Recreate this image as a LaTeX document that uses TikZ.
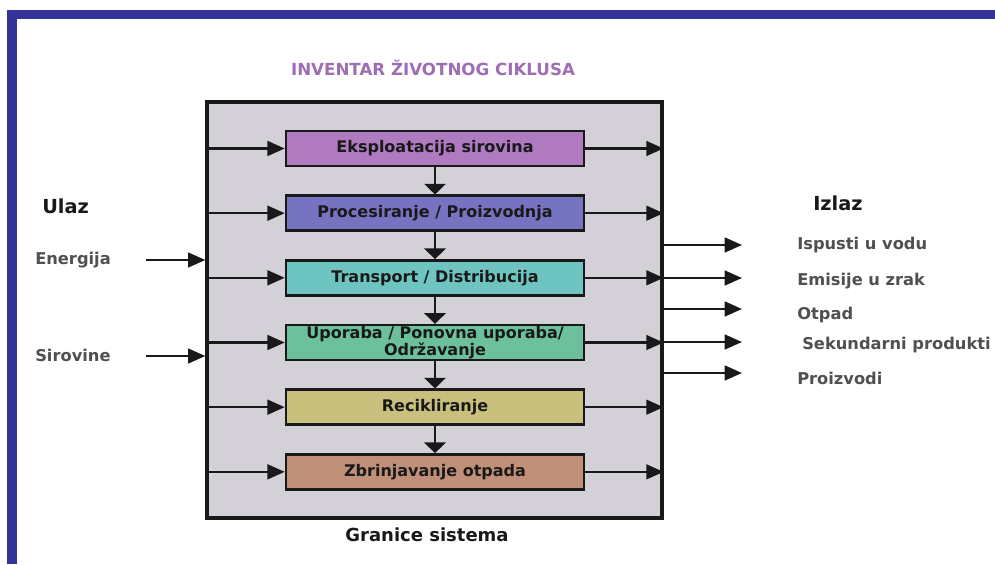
\documentclass[tikz,border=0pt]{standalone}
\usepackage{fontspec}
\setmainfont{DejaVu Sans}
\usetikzlibrary{arrows.meta}

\definecolor{frameblue}{RGB}{51,51,153}
\definecolor{sysgray}{RGB}{212,208,216}
\definecolor{titlepurple}{RGB}{160,108,180}
\definecolor{labelgray}{RGB}{80,80,80}
\definecolor{eksp}{RGB}{176,122,192}
\definecolor{proc}{RGB}{118,116,192}
\definecolor{trans}{RGB}{110,196,192}
\definecolor{upor}{RGB}{108,192,156}
\definecolor{recik}{RGB}{200,192,124}
\definecolor{zbrin}{RGB}{192,144,120}

\tikzstyle{process} = [rectangle, minimum width=223.5pt, minimum height=26.25pt, inner sep=0pt, text centered, align=center, draw=black!90, line width=1.8pt, font=\fontsize{12}{12}\selectfont\bfseries, text=black!90]
\tikzstyle{system} = [rectangle, minimum width=341.25pt, minimum height=312pt, draw=black!90, line width=2.4pt, fill=sysgray]
\tikzstyle{arrow} = [line width=1.9pt, black!90, -{Triangle[length=13pt,width=11pt]}]
\tikzstyle{downarrow} = [line width=1.9pt, black!90, -{Triangle[length=8pt,width=16pt]}]
\tikzstyle{sidetext} = [anchor=west, inner sep=0pt, text=labelgray, font=\fontsize{12.2}{13}\selectfont\bfseries]
\tikzstyle{heading} = [anchor=west, inner sep=0pt, text=black!90, font=\fontsize{14.5}{15}\selectfont\bfseries]

\begin{document}
\begin{tikzpicture}[x=0.75pt, y=0.75pt, node distance=48.5pt]
	\useasboundingbox (0,0) rectangle (995,-564);
	% Frame
	\fill [frameblue] (7,-10) rectangle (995,-564);
	\fill [white] (17,-19) rectangle (995,-564);
	% Place nodes
	\node [text=titlepurple, font=\fontsize{12.5}{13}\selectfont\bfseries] (Title) at (433,-68) {INVENTAR ŽIVOTNOG CIKLUSA};
	\node [system] (System) at (434.5,-310) {};
	\node [font=\fontsize{13.5}{14}\selectfont\bfseries, text=black!90] (Granice) at (427,-535) {Granice sistema};
	\node [process, fill=eksp] (Eksploatacija) at (435,-148.5) {Eksploatacija sirovina};
	\node [process, fill=proc, below of=Eksploatacija] (Procesiranje) {Procesiranje / Proizvodnja};
	\node [process, fill=trans, below of=Procesiranje] (Transport) {Transport / Distribucija};
	\node [process, fill=upor, below of=Transport] (Uporaba) {Uporaba / Ponovna uporaba/\\Održavanje};
	\node [process, fill=recik, below of=Uporaba] (Recikliranje) {Recikliranje};
	\node [process, fill=zbrin, below of=Recikliranje] (Zbrinjavanje) {Zbrinjavanje otpada};
	% Inputs
	\node [heading] (Ulaz) at (42,-206) {Ulaz};
	\node [sidetext] (Energija) at (35,-260) {Energija};
	\node [sidetext] (Sirovine) at (35,-355) {Sirovine};
	\coordinate (EnergijaStart) at (146,-260);
	\coordinate (SirovineStart) at (146,-356);
	% Outputs
	\node [heading] (Izlaz) at (813,-203) {Izlaz};
	\node [sidetext] (Ispusti) at (797,-245) {Ispusti u vodu};
	\node [sidetext] (Emisije) at (797,-281) {Emisije u zrak};
	\node [sidetext] (Otpad) at (797,-315) {Otpad};
	\node [sidetext] (Sekundarni) at (802,-345) {Sekundarni produkti};
	\node [sidetext] (Proizvodi) at (797,-378) {Proizvodi};
	\coordinate (IspustiEnd) at (742,-245);
	\coordinate (EmisijeEnd) at (742,-278);
	\coordinate (OtpadEnd) at (742,-309);
	\coordinate (SekundarniEnd) at (742,-342);
	\coordinate (ProizvodiEnd) at (742,-373);
	% Draw edges
	\draw [downarrow] (Eksploatacija) -- (Procesiranje);
	\draw [downarrow] (Procesiranje) -- (Transport);
	\draw [downarrow] (Transport) -- (Uporaba);
	\draw [downarrow] (Uporaba) -- (Recikliranje);
	\draw [downarrow] (Recikliranje) -- (Zbrinjavanje);
	\draw [arrow] (System.west |- Eksploatacija) -- (Eksploatacija);
	\draw [arrow] (System.west |- Procesiranje) -- (Procesiranje);
	\draw [arrow] (System.west |- Transport) -- (Transport);
	\draw [arrow] (System.west |- Uporaba) -- (Uporaba);
	\draw [arrow] (System.west |- Recikliranje) -- (Recikliranje);
	\draw [arrow] (System.west |- Zbrinjavanje) -- (Zbrinjavanje);
	\draw [arrow] (Eksploatacija) -- (Eksploatacija -| System.east);
	\draw [arrow] (Procesiranje) -- (Procesiranje -| System.east);
	\draw [arrow] (Transport) -- (Transport -| System.east);
	\draw [arrow] (Uporaba) -- (Uporaba -| System.east);
	\draw [arrow] (Recikliranje) -- (Recikliranje -| System.east);
	\draw [arrow] (Zbrinjavanje) -- (Zbrinjavanje -| System.east);
	\draw [arrow] (EnergijaStart) -- (EnergijaStart -| System.west);
	\draw [arrow] (SirovineStart) -- (SirovineStart -| System.west);
	\draw [arrow] (System.east |- IspustiEnd) -- (IspustiEnd);
	\draw [arrow] (System.east |- EmisijeEnd) -- (EmisijeEnd);
	\draw [arrow] (System.east |- OtpadEnd) -- (OtpadEnd);
	\draw [arrow] (System.east |- SekundarniEnd) -- (SekundarniEnd);
	\draw [arrow] (System.east |- ProizvodiEnd) -- (ProizvodiEnd);
\end{tikzpicture}
\end{document}
